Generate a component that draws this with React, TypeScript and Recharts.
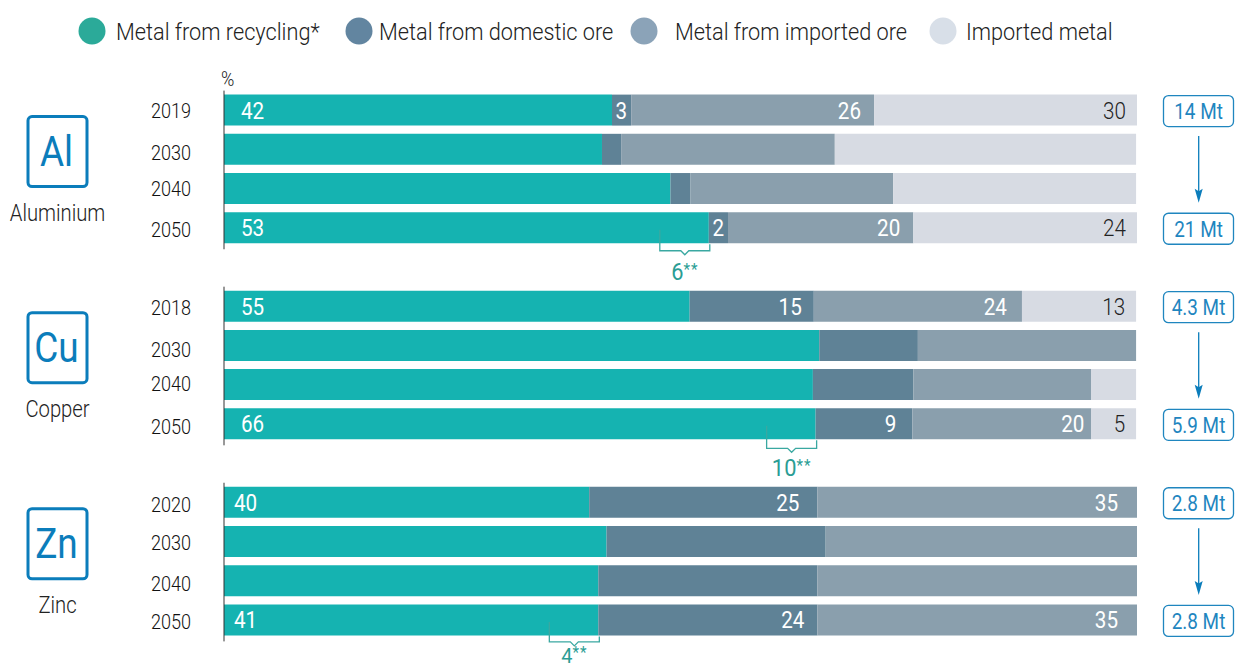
import { BarChart, Bar, XAxis, YAxis, LabelList } from 'recharts';

const FONT = 'Roboto, sans-serif';
const SQUEEZE = 0.86; // no condensed face installed, so narrow Roboto by hand
const WIDTH = 1235;
const HEIGHT = 668;
const PLOT_LEFT = 224;
const PLOT_RIGHT = 1137;
const PLOT_TOP = 90.6;
const PLOT_BOTTOM = 639.6;

const rows = ['Al 2019', 'Al 2030', 'Al 2040', 'Al 2050', 'gap 1', 'Cu 2018', 'Cu 2030', 'Cu 2040', 'Cu 2050', 'gap 2', 'Zn 2020', 'Zn 2030', 'Zn 2040', 'Zn 2050'];
const years = ['2019', '2030', '2040', '2050', '', '2018', '2030', '2040', '2050', '', '2020', '2030', '2040', '2050'];

// bar widths as measured, the printed labels are rounded differently in the source
const recycling = [42.5, 41.4, 48.9, 53.1, 0, 51.0, 65.2, 64.5, 64.8, 0, 40.0, 41.9, 41.0, 41.0];
const domesticOre = [2.1, 2.1, 2.2, 2.1, 0, 13.6, 10.8, 11.0, 10.6, 0, 25.0, 24.0, 24.0, 24.0];
const importedOre = [26.6, 23.4, 22.2, 20.3, 0, 22.8, 23.9, 19.5, 19.6, 0, 35.0, 34.1, 35.0, 35.0];
const importedMetal = [28.8, 33.0, 26.6, 24.5, 0, 12.5, 0, 4.9, 4.9, 0, 0, 0, 0, 0];

const recyclingLabels = ['42', '', '', '53', '', '55', '', '', '66', '', '40', '', '', '41'];
const domesticLabels = ['3', '', '', '2', '', '15', '', '', '9', '', '25', '', '', '24'];
const importedOreLabels = ['26', '', '', '20', '', '24', '', '', '20', '', '35', '', '', '35'];
const importedMetalLabels = ['30', '', '', '24', '', '13', '', '', '5', '', '', '', '', ''];

const legendItems = [
  { name: 'Metal from recycling*', color: '#2BAA99', cx: 92, x: 116 },
  { name: 'Metal from domestic ore', color: '#6285A0', cx: 359, x: 379 },
  { name: 'Metal from imported ore', color: '#8BA3B8', cx: 644, x: 675 },
  { name: 'Imported metal', color: '#D8DFE8', cx: 943, x: 966 },
];

const metals = [
  { symbol: 'Al', name: 'Aluminium', first: 0, from: '14 Mt', to: '21 Mt', gain: '6', braceDrop: 22.5, gainDrop: 52, gainSize: 23 },
  { symbol: 'Cu', name: 'Copper', first: 5, from: '4.3 Mt', to: '5.9 Mt', gain: '10', braceDrop: 24, gainDrop: 51.5, gainSize: 23 },
  { symbol: 'Zn', name: 'Zinc', first: 10, from: '2.8 Mt', to: '2.8 Mt', gain: '4', braceDrop: 21.5, gainDrop: 43, gainSize: 21 },
];

// small per-row nudges seen in the source
const tickNudge = [0, 3, 0, 2, 0, 1, 4, -1, 3, 0, 2, 1, 3, 2];
const domesticInset = [4, 0, 0, 4, 0, 12, 0, 0, 16, 0, 18, 0, 0, 13];
const importedOreInset = [13, 0, 0, 13, 0, 15, 0, 0, 7, 0, 19, 0, 0, 19];

const data = rows.map((row, i) => ({
  row,
  recycling: recycling[i],
  domesticOre: domesticOre[i],
  importedOre: importedOre[i],
  importedMetal: importedMetal[i],
  recyclingLabel: recyclingLabels[i],
  domesticLabel: domesticLabels[i],
  importedOreLabel: importedOreLabels[i],
  importedMetalLabel: importedMetalLabels[i],
}));

const rowHeight = (PLOT_BOTTOM - PLOT_TOP) / rows.length;
const rowCenter = (i: number) => PLOT_TOP + rowHeight * (i + 0.5);
const xOf = (v: number) => PLOT_LEFT + (v / 100) * (PLOT_RIGHT - PLOT_LEFT);
// LabelList's index skips empty bars, so find the row from where the bar sits
const rowAt = (y: number, height: number) => Math.round((y + height / 2 - PLOT_TOP) / rowHeight - 0.5);

function Narrow({ x, y, size, color = '#222', anchor = 'start', weight = 400, baseline = 'central', squeeze = SQUEEZE, children }: any) {
  return (
    <text
      transform={`translate(${x} ${y}) scale(${squeeze} 1)`}
      textAnchor={anchor}
      dominantBaseline={baseline}
      fontFamily={FONT}
      fontSize={size}
      fontWeight={weight}
      fill={color}
    >
      {children}
    </text>
  );
}

function YearTick({ x, y, index }: any) {
  return (
    <Narrow x={x + 1} y={y + tickNudge[index] + 0.4} size={21} anchor="end" weight={300} color="#111">
      {years[index]}
    </Narrow>
  );
}

function startLabel(props: any) {
  const { x, y, height, value } = props;
  if (!value) return null;
  return (
    <Narrow x={x + (rowAt(y, height) >= 10 ? 10 : 17)} y={y + height / 2} size={24} color="#fff">
      {value}
    </Narrow>
  );
}

function endLabel(insets: number[] | null, color: string, weight = 400) {
  return (props: any) => {
    const { x, y, width, height, value } = props;
    if (!value) return null;
    return (
      <Narrow x={x + width - (insets ? insets[rowAt(y, height)] : 11)} y={y + height / 2} size={24} anchor="end" color={color} weight={weight}>
        {value}
      </Narrow>
    );
  };
}

function MetalBlock({ symbol, name, first, from, to, gain, braceDrop, gainDrop, gainSize }: any) {
  const top = rowCenter(first) + 0.4;
  const last = first + 3;
  const bottom = rowCenter(last) + 0.4;
  const end = xOf(recycling[last]) + 1;
  const start = end - 50;
  const mid = (start + end) / 2;
  const line = bottom + braceDrop;
  return (
    <g>
      <line x1={PLOT_LEFT} x2={PLOT_LEFT} y1={top - 20} y2={bottom + 21} stroke="#333" strokeWidth={1} />

      <rect x={28} y={top + 6} width={59} height={70} rx={4} fill="#fff" stroke="#0B7DBB" strokeWidth={3} />
      <Narrow x={56.5} y={top + 41} size={43} anchor="middle" color="#0B7DBB">{symbol}</Narrow>
      <Narrow x={57.5} y={top + 102} size={23} anchor="middle" weight={300} squeeze={0.88}>{name}</Narrow>

      <rect x={1163.5} y={top - 15} width={70} height={31} rx={5} fill="#fff" stroke="#1F86BF" strokeWidth={1.3} />
      <Narrow x={1198.5} y={top + 1} size={22} anchor="middle" color="#1F86BF">{from}</Narrow>
      <rect x={1163.5} y={bottom - 15} width={70} height={31} rx={5} fill="#fff" stroke="#1F86BF" strokeWidth={1.3} />
      <Narrow x={1198.5} y={bottom + 1} size={22} anchor="middle" color="#1F86BF">{to}</Narrow>

      <line x1={1198.7} x2={1198.7} y1={top + 25.5} y2={bottom - 30} stroke="#0B7DBB" strokeWidth={1.3} />
      <path d={`M${1194.7} ${bottom - 39.5} L${1198.7} ${bottom - 37} L${1202.7} ${bottom - 39.5} L${1198.7} ${bottom - 25.5} Z`} fill="#0B7DBB" />

      <path
        d={`M${start} ${bottom + 1.5} V${line} H${mid - 4} L${mid} ${line + 4} L${mid + 4} ${line} H${end} V${bottom + 16}`}
        fill="none"
        stroke="#3AA8A1"
        strokeWidth={1.3}
      />
      <Narrow x={mid} y={bottom + gainDrop} size={gainSize} anchor="middle" color="#2A9D94" baseline="auto" squeeze={0.95}>
        {gain}
        <tspan fontSize={16} dy={-5} letterSpacing={1}>**</tspan>
      </Narrow>
    </g>
  );
}

export default function App() {
  return (
    <div style={{ position: 'absolute', left: 0, top: 0, width: WIDTH, height: HEIGHT, background: '#fff' }}>
      <BarChart
        width={WIDTH}
        height={HEIGHT}
        data={data}
        layout="vertical"
        barCategoryGap={0}
        margin={{ top: PLOT_TOP, right: WIDTH - PLOT_RIGHT, bottom: HEIGHT - PLOT_BOTTOM, left: 144 }}
      >
        <XAxis type="number" domain={[0, 100]} hide />
        <YAxis type="category" dataKey="row" width={80} interval={0} axisLine={false} tickLine={false} tickMargin={0} tickSize={34} tick={<YearTick />} />
        <Bar dataKey="recycling" stackId="a" barSize={31} fill="#15B3B1" isAnimationActive={false}>
          <LabelList dataKey="recyclingLabel" content={startLabel} />
        </Bar>
        <Bar dataKey="domesticOre" stackId="a" barSize={31} fill="#5F8296" isAnimationActive={false}>
          <LabelList dataKey="domesticLabel" content={endLabel(domesticInset, '#fff')} />
        </Bar>
        <Bar dataKey="importedOre" stackId="a" barSize={31} fill="#8A9FAD" isAnimationActive={false}>
          <LabelList dataKey="importedOreLabel" content={endLabel(importedOreInset, '#fff')} />
        </Bar>
        <Bar dataKey="importedMetal" stackId="a" barSize={31} fill="#D7DBE3" isAnimationActive={false}>
          <LabelList dataKey="importedMetalLabel" content={endLabel(null, '#222', 300)} />
        </Bar>
      </BarChart>

      <svg width={WIDTH} height={HEIGHT} style={{ position: 'absolute', left: 0, top: 0, pointerEvents: 'none' }}>
        {legendItems.map((item) => (
          <g key={item.name}>
            <circle cx={item.cx} cy={31} r={13.5} fill={item.color} />
            <Narrow x={item.x} y={32} size={24} weight={300} squeeze={0.905}>{item.name}</Narrow>
          </g>
        ))}
        <Narrow x={221} y={79} size={21} weight={300}>%</Narrow>
        {metals.map((m) => (
          <MetalBlock key={m.symbol} {...m} />
        ))}
      </svg>
    </div>
  );
}
